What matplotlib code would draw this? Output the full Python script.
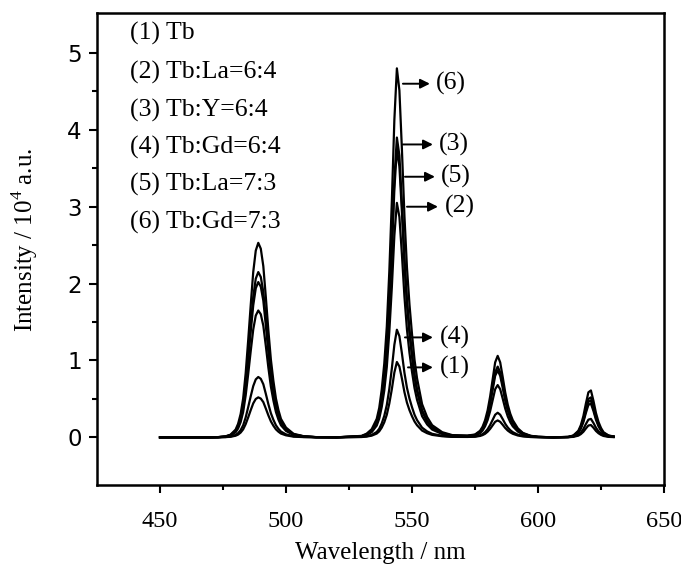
import matplotlib
matplotlib.use("Agg")
import matplotlib.pyplot as plt
from matplotlib.ticker import FixedLocator

# ---------------- data ----------------
wavelength = [450, 470, 473, 476, 478, 480, 481, 482, 483, 484, 485, 486, 487, 488, 489, 490, 491, 492, 493, 494, 495, 496, 497, 498, 500, 503, 507, 512, 520,
              530, 532, 534, 536, 537, 538, 539, 540, 541, 542, 543, 544, 545, 546, 547, 548, 549, 550, 551, 552, 554, 556, 558, 562, 566,
              572, 575, 577, 578, 579, 580, 581, 582, 583, 584, 585, 586, 587, 588, 589, 590, 592, 594, 597, 600, 606,
              612, 614, 616, 617, 618, 619, 620, 621, 622, 623, 624, 625, 626, 628, 630]

s1_tb = [0, 0, .001, .003, .007, .021, .036, .062, .104, .172, .26, .354, .442, .499, .52, .504, .458, .374, .286, .208, .151, .104, .073, .049, .026, .009, .003, .001, 0,
         .004, .010, .022, .049, .078, .127, .196, .294, .441, .627, .843, .98, .921, .764, .588, .451, .353, .274, .206, .157, .088, .054, .032, .014, .006,
         .005, .008, .018, .029, .046, .073, .11, .156, .202, .22, .202, .163, .121, .088, .064, .046, .024, .012, .004, .002, 0,
         .002, .006, .022, .042, .072, .115, .154, .16, .125, .083, .053, .032, .018, .006, .003]

s2_tb_la_64 = [0, 0, .002, .008, .023, .066, .116, .198, .33, .545, .825, 1.122, 1.403, 1.584, 1.65, 1.601, 1.452, 1.188, .908, .66, .479, .33, .231, .157, .083, .030, .010, .002, 0,
               .012, .031, .067, .153, .244, .397, .61, .915, 1.373, 1.952, 2.623, 3.05, 2.867, 2.379, 1.83, 1.403, 1.098, .854, .641, .488, .275, .168, .101, .043, .018,
               .014, .024, .054, .088, .143, .224, .34, .483, .626, .68, .626, .503, .374, .272, .197, .143, .075, .037, .014, .005, 0,
               .004, .018, .062, .114, .198, .317, .422, .44, .343, .229, .145, .088, .048, .018, .009]

s3_tb_y_64 = [0, 0, .002, .011, .030, .086, .151, .258, .43, .710, 1.075, 1.462, 1.828, 2.064, 2.15, 2.086, 1.892, 1.548, 1.183, .86, .624, .43, .301, .204, .108, .039, .013, .002, 0,
              .016, .039, .086, .195, .312, .507, .78, 1.17, 1.755, 2.496, 3.354, 3.90, 3.666, 3.042, 2.34, 1.794, 1.404, 1.092, .819, .624, .351, .215, .129, .055, .023,
              .019, .032, .074, .12, .193, .304, .46, .653, .846, .92, .846, .681, .506, .368, .267, .193, .101, .051, .018, .006, 0,
              .005, .021, .073, .135, .234, .374, .499, .52, .406, .270, .172, .104, .057, .021, .010]

s4_tb_gd_64 = [0, 0, .001, .004, .011, .031, .055, .094, .157, .259, .393, .534, .667, .754, .785, .761, .691, .565, .432, .314, .228, .157, .110, .075, .039, .014, .005, .001, 0,
               .006, .014, .031, .07, .112, .182, .28, .42, .63, .896, 1.204, 1.40, 1.316, 1.092, .84, .644, .504, .392, .294, .224, .126, .077, .046, .020, .008,
               .007, .011, .026, .042, .067, .106, .16, .227, .294, .32, .294, .237, .176, .128, .093, .067, .035, .018, .006, .002, 0,
               .002, .010, .034, .062, .108, .173, .230, .24, .187, .125, .079, .048, .026, .010, .005]

s5_tb_la_73 = [0, 0, .002, .010, .028, .081, .141, .242, .404, .667, 1.01, 1.374, 1.717, 1.939, 2.02, 1.959, 1.778, 1.454, 1.111, .808, .586, .404, .283, .192, .101, .036, .012, .002, 0,
               .015, .038, .083, .188, .30, .488, .75, 1.125, 1.688, 2.40, 3.225, 3.75, 3.525, 2.925, 2.25, 1.725, 1.35, 1.05, .788, .60, .338, .206, .124, .053, .023,
               .018, .030, .070, .113, .183, .287, .435, .618, .80, .87, .80, .644, .479, .348, .252, .183, .096, .048, .017, .006, 0,
               .005, .019, .067, .125, .216, .346, .461, .48, .374, .250, .158, .096, .053, .019, .010]

s6_tb_gd_73 = [0, 0, .003, .013, .035, .101, .177, .304, .506, .835, 1.265, 1.720, 2.151, 2.429, 2.53, 2.454, 2.226, 1.822, 1.392, 1.012, .734, .506, .354, .240, .127, .046, .015, .003, 0,
               .019, .048, .106, .24, .384, .624, .96, 1.44, 2.16, 3.072, 4.128, 4.80, 4.512, 3.744, 2.88, 2.208, 1.728, 1.344, 1.008, .768, .432, .264, .158, .067, .029,
               .023, .037, .085, .138, .223, .350, .53, .753, .975, 1.06, .975, .784, .583, .424, .307, .223, .117, .058, .021, .007, 0,
               .006, .024, .085, .159, .275, .439, .586, .61, .476, .317, .201, .122, .067, .024, .012]

legend_labels = ["(1) Tb", "(2) Tb:La=6:4", "(3) Tb:Y=6:4",
                 "(4) Tb:Gd=6:4", "(5) Tb:La=7:3", "(6) Tb:Gd=7:3"]

# arrow annotations: label, y level, arrow start, arrow end, text x
arrow_labels = ["(6)", "(3)", "(5)", "(2)", "(4)", "(1)"]
arrow_y = [4.60, 3.81, 3.39, 3.00, 1.30, 0.91]
arrow_x0 = [546.4, 546.4, 547.2, 548.0, 547.2, 548.4]
arrow_x1 = [557.1, 558.3, 559.1, 560.3, 558.3, 558.3]
arrow_tx = [559.5, 560.7, 561.5, 563.0, 561.0, 561.0]

x_ticks = [450, 500, 550, 600, 650]
y_ticks = [0, 1, 2, 3, 4, 5]

# ---------------- figure ----------------
serif = ["Liberation Serif", "DejaVu Serif"]
W, H = 681, 568
fig = plt.figure(figsize=(W / 100, H / 100), dpi=100)
L, R, T, B = 97, 664, 13, 485
ax = fig.add_axes([L / W, 1 - B / H, (R - L) / W, (B - T) / H])

for s in [s1_tb, s2_tb_la_64, s3_tb_y_64, s4_tb_gd_64, s5_tb_la_73, s6_tb_gd_73]:
    ax.plot(wavelength, s, color="black", lw=1.6, solid_joinstyle="round")

ax.set_xlim(425, 650)
ax.set_ylim(-0.62, 5.52)

ax.set_xticks(x_ticks)
ax.set_xticklabels([str(v) for v in x_ticks], fontfamily=serif, fontsize=17.5)
ax.xaxis.set_minor_locator(FixedLocator([475, 525, 575, 625]))
ax.set_yticks(y_ticks)
ax.set_yticklabels([str(v) for v in y_ticks], fontfamily="DejaVu Sans", fontsize=16.5)
ax.yaxis.set_minor_locator(FixedLocator([0.5, 1.5, 2.5, 3.5, 4.5]))

ax.tick_params(which="major", direction="out", length=6, width=1.5)
ax.tick_params(which="minor", direction="out", length=3.5, width=1.5)
ax.tick_params(axis="x", which="major", pad=13)
ax.tick_params(axis="y", which="major", pad=5)
for sp in ax.spines.values():
    sp.set_linewidth(1.8)

# legend text (top-left)
leg_y = [33, 72, 110, 147, 184, 222]
for lab, py in zip(legend_labels, leg_y):
    fig.text(130 / W, 1 - py / H, lab, fontfamily=serif, fontsize=18.5,
             ha="left", va="center")

# arrows with labels
for lab, y, x0, x1, tx in zip(arrow_labels, arrow_y, arrow_x0, arrow_x1, arrow_tx):
    ax.annotate("", xy=(x1, y), xytext=(x0, y),
                arrowprops=dict(arrowstyle="-|>", color="black", lw=1.4,
                                mutation_scale=14, shrinkA=0, shrinkB=0))
    ax.text(tx, y, lab, fontfamily=serif, fontsize=18.5, ha="left", va="center")

fig.text(25 / W, 1 - 240 / H, r"Intensity / 10$^{\mathregular{4}}$ a.u.",
         fontfamily=serif, fontsize=18, rotation=90, ha="center", va="center")
fig.text(380 / W, 1 - 553 / H, "Wavelength / nm", fontfamily=serif,
         fontsize=18, ha="center", va="center")

fig.savefig("out.png", dpi=100)
